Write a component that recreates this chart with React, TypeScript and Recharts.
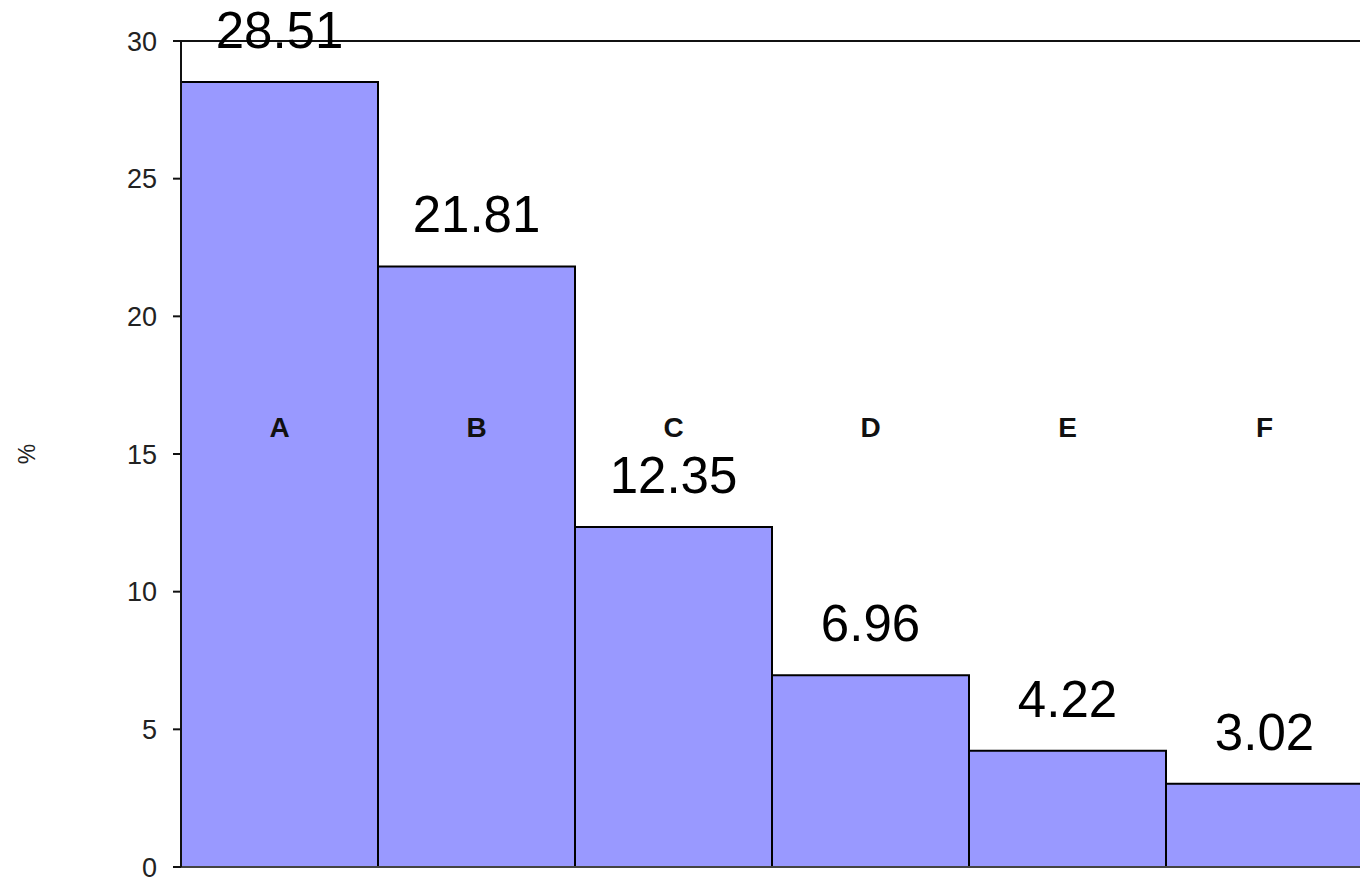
import React from "react";
import {
  BarChart,
  Bar,
  XAxis,
  YAxis,
  LabelList,
  ReferenceLine,
} from "recharts";

const categories = ["A", "B", "C", "D", "E", "F"];
const shares = [28.51, 21.81, 12.35, 6.96, 4.22, 3.02];
const yTicks = [0, 5, 10, 15, 20, 25, 30];

// height (in % units) at which the category letters sit
const letterLevel = 15.9;

const data = categories.map((name, i) => ({ name, value: shares[i] }));

const CategoryLetter = (props: any) => {
  const { x, y, width, height, index, value } = props;
  const bottom = Number(y) + Number(height);
  const pxPerUnit = Number(height) / Number(value);
  return (
    <text
      x={Number(x) + Number(width) / 2}
      y={bottom - pxPerUnit * letterLevel}
      textAnchor="middle"
      dominantBaseline="middle"
      fontFamily="Arial, 'Liberation Sans', sans-serif"
      fontWeight="bold"
      fontSize={28}
      fill="#111"
    >
      {categories[index]}
    </text>
  );
};

const App: React.FC = () => {
  return (
    <div
      style={{
        position: "fixed",
        left: 0,
        top: 0,
        width: 1360,
        height: 882,
        overflow: "hidden",
        background: "#fff",
      }}
    >
      <BarChart
        width={1370}
        height={882}
        data={data}
        margin={{ top: 41, right: 7, bottom: 14, left: 0 }}
        barCategoryGap={0}
        style={{ fontFamily: "Arial, 'Liberation Sans', sans-serif" }}
      >
        <XAxis
          dataKey="name"
          tick={false}
          tickLine={false}
          height={1}
          axisLine={{ stroke: "#444", strokeWidth: 2 }}
        />
        <YAxis
          width={181}
          domain={[0, 30]}
          ticks={yTicks}
          tickSize={8}
          tickMargin={16}
          interval={0}
          axisLine={{ stroke: "#111", strokeWidth: 2 }}
          tickLine={{ stroke: "#111", strokeWidth: 2 }}
          tick={{ fontSize: 27, fill: "#222" }}
          label={{
            value: "%",
            angle: -90,
            position: "insideLeft",
            offset: 27,
            style: { fontSize: 23, fill: "#222", textAnchor: "middle" },
          }}
        />
        <ReferenceLine y={30} stroke="#111" strokeWidth={2} />
        <Bar
          dataKey="value"
          fill="#9999FF"
          stroke="#000"
          strokeWidth={2}
          isAnimationActive={false}
        >
          <LabelList
            dataKey="value"
            position="top"
            offset={34}
            style={{ fontSize: 51, fill: "#000" }}
          />
          <LabelList dataKey="value" content={<CategoryLetter />} />
        </Bar>
      </BarChart>
    </div>
  );
};

export default App;
